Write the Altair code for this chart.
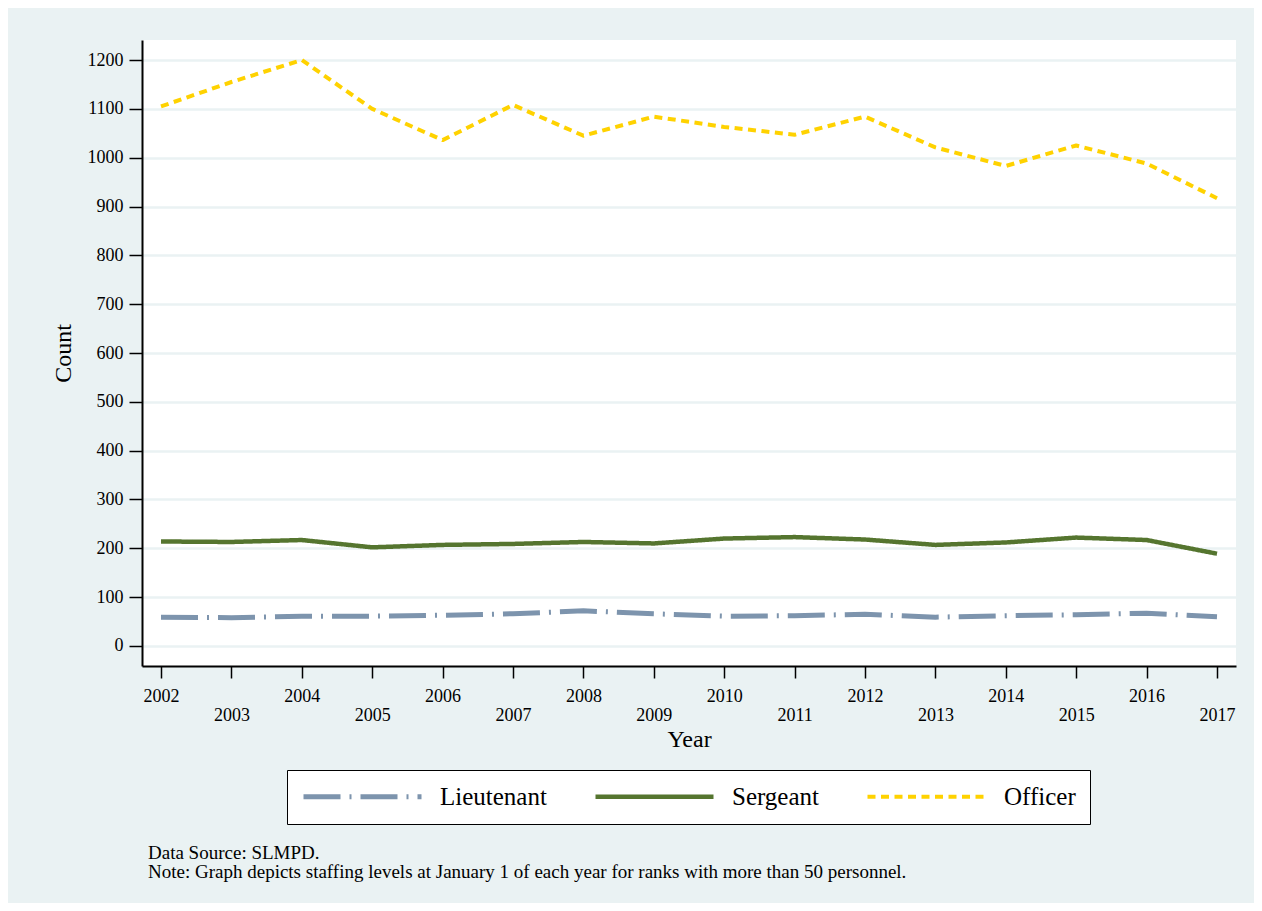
import altair as alt
import pandas as pd

years = list(range(2002, 2018))
lieutenant = [59, 58, 61, 61, 63, 66, 72, 66, 61, 62, 65, 59, 62, 64, 67, 60]
sergeant = [214, 213, 217, 202, 207, 209, 213, 210, 220, 223, 218, 207, 212, 222, 217, 189]
officer = [1105, 1155, 1200, 1100, 1036, 1108, 1045, 1084, 1063, 1047, 1084, 1021, 983, 1025, 988, 917]

ranks = ["Lieutenant", "Sergeant", "Officer"]
colors = ["#7D94AD", "#55752F", "#FFD200"]
dashes = [[37, 9, 2, 9], [1, 0], [8, 5.5]]
widths = [5, 4, 5]
y_ticks = list(range(0, 1300, 100))
notes = ["Data Source: SLMPD.",
         "Note: Graph depicts staffing levels at January 1 of each year for ranks with more than 50 personnel."]

rows = []
for i, yr in enumerate(years):
    rows.append({"Year": yr, "Rank": "Lieutenant", "Count": lieutenant[i]})
    rows.append({"Year": yr, "Rank": "Sergeant", "Count": sergeant[i]})
    rows.append({"Year": yr, "Rank": "Officer", "Count": officer[i]})
df = pd.DataFrame(rows)

FONT = "Liberation Serif"
BG = "#EAF2F3"

# legend symbol: horizontal line drawn from the entry start, 118px long (scale = sqrt(400)/2 = 10)
legend_cfg = dict(
    title="", orient="none", legendX=145, legendY=730, direction="horizontal",
    columns=3, columnPadding=39, symbolType="M-1,0H10.8", symbolSize=400,
    symbolStrokeWidth=4.5, labelFont=FONT, labelFontSize=25, labelColor="black",
    labelOffset=114, padding=14, strokeColor="black", fillColor="white",
    labelLimit=300
)

lines = alt.Chart(df).mark_line(strokeCap="butt", strokeJoin="round").encode(
    x=alt.X("Year:Q",
            scale=alt.Scale(domain=[2001.73, 2017.27], nice=False, zero=False),
            axis=alt.Axis(values=years, format="d", title="Year", grid=False,
                          labelExpr="datum.value % 2 == 0 ? datum.label : ['', datum.label]",
                          labelFont=FONT, labelFontSize=18, labelColor="black",
                          labelBaseline="alphabetic", labelPadding=23, labelLineHeight=19,
                          labelOverlap=False, labelFlush=False,
                          tickSize=12, tickColor="black", tickWidth=1.5,
                          domainColor="black", domainWidth=2,
                          titleFont=FONT, titleFontSize=24, titleFontWeight="normal",
                          titleColor="black", titleBaseline="alphabetic", titleY=80)),
    y=alt.Y("Count:Q",
            scale=alt.Scale(domain=[-41, 1241], nice=False, zero=False),
            axis=alt.Axis(values=y_ticks, format="d", title="Count", grid=True,
                          gridColor=BG, gridWidth=2.5,
                          labelFont=FONT, labelFontSize=18, labelColor="black",
                          labelPadding=6, tickSize=13, tickColor="black", tickWidth=1.5,
                          domainColor="black", domainWidth=2,
                          titleFont=FONT, titleFontSize=24, titleFontWeight="normal",
                          titleColor="black", titleBaseline="alphabetic",
                          titleX=-72, titleY=313)),
    color=alt.Color("Rank:N", scale=alt.Scale(domain=ranks, range=colors),
                    legend=alt.Legend(**legend_cfg)),
    strokeDash=alt.StrokeDash("Rank:N", scale=alt.Scale(domain=ranks, range=dashes),
                              legend=alt.Legend(**legend_cfg)),
    strokeWidth=alt.StrokeWidth("Rank:N", scale=alt.Scale(domain=ranks, range=widths),
                                legend=None),
)

note = alt.Chart(pd.DataFrame({"n": [0]})).mark_text(
    text=notes, align="left", baseline="alphabetic", font=FONT, fontSize=19,
    lineHeight=19, color="black"
).encode(x=alt.value(6), y=alt.value(819))

chart = alt.layer(lines, note).properties(
    width=1094, height=626,
    autosize=alt.AutoSizeParams(type="none"),
    padding={"left": 134, "top": 32, "right": 18, "bottom": 237},
    background=BG,
).configure_view(fill="white", strokeWidth=0).configure_axis(
    labelFont=FONT, titleFont=FONT
).configure_legend(labelFont=FONT, titleFont=FONT)

chart.save("out.html", embed_options={"renderer": "svg", "actions": False})
